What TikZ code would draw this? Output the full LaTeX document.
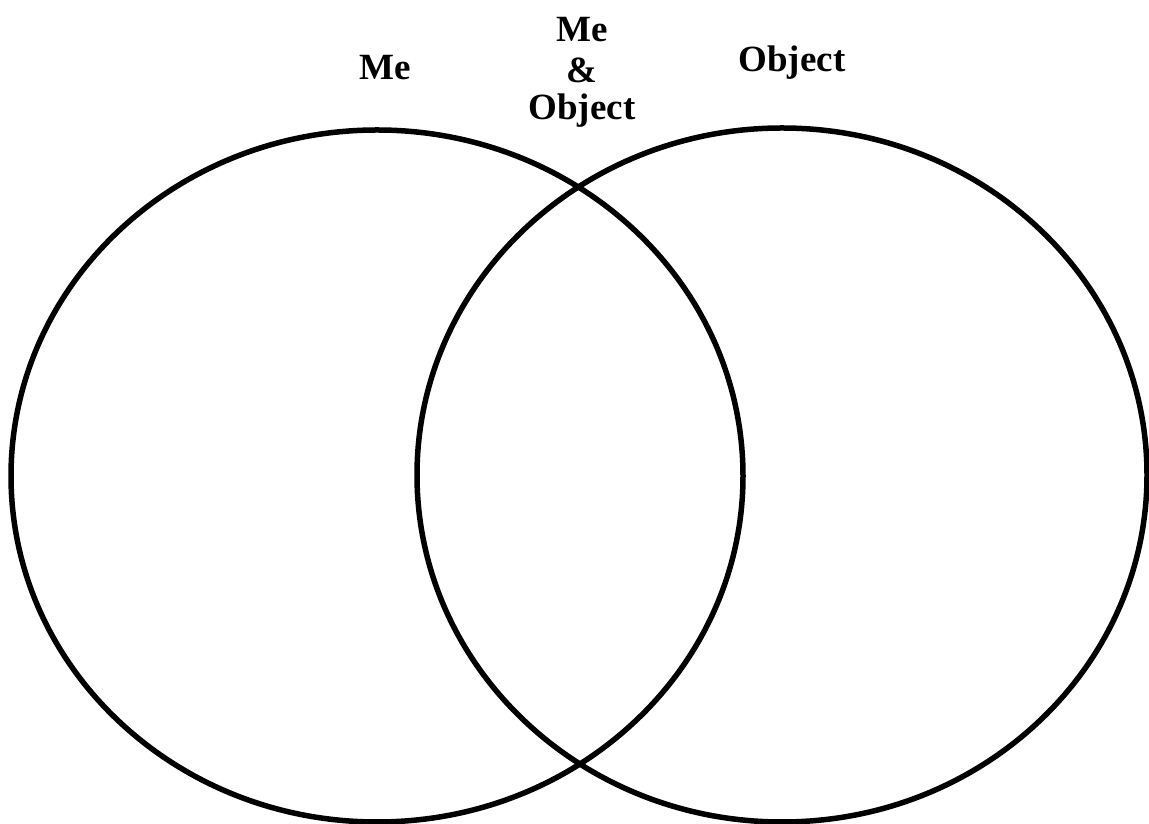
\documentclass[tikz,border=0pt]{standalone}
\usepackage{fontspec}
\setmainfont{Liberation Serif}
\begin{document}
\begin{tikzpicture}[x=1pt,y=1pt,
  ring/.style={line width=5.5pt},
  lbl/.style={font=\fontsize{37}{41}\selectfont\bfseries, inner sep=0pt}]
\useasboundingbox (0,0) rectangle (1149,824);
\draw[ring] (377,348) ellipse [x radius=366, y radius=346];
\draw[ring] (782,349) ellipse [x radius=365, y radius=347];
\node[lbl] (me) at (385,756) {Me};
\node[lbl] (me2) at (582,794) {Me};
\node[lbl] (amp) at (582,754) {\&};
\node[lbl] (obj2) at (582,713) {Object};
\node[lbl] (obj) at (792,761) {Object};
\end{tikzpicture}
\end{document}
